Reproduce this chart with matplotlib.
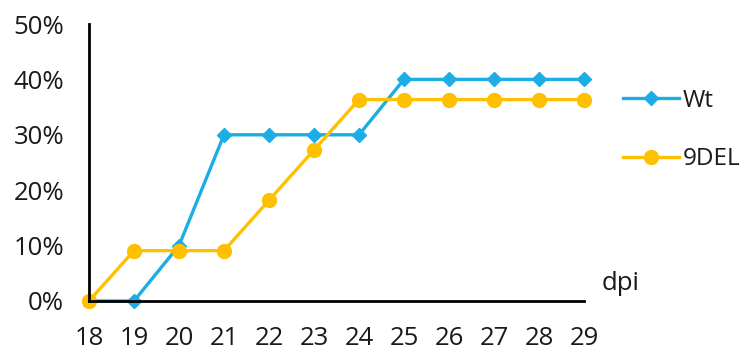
import matplotlib
matplotlib.use('Agg')
import matplotlib.pyplot as plt
from matplotlib.ticker import PercentFormatter

dpi_days = [18, 19, 20, 21, 22, 23, 24, 25, 26, 27, 28, 29]
wt = [0, 0, 10, 30, 30, 30, 30, 40, 40, 40, 40, 40]
del9 = [0, 9.09, 9.09, 9.09, 18.18, 27.27, 36.36, 36.36, 36.36, 36.36, 36.36, 36.36]

plt.rcParams['font.family'] = ['Open Sans', 'DejaVu Sans']

fig = plt.figure(figsize=(7.5, 3.54), dpi=100)
ax = fig.add_axes([89 / 750, 1 - 301 / 354, (584 - 89) / 750, (301 - 24) / 354])

ax.plot(dpi_days, wt, color='#1CADE4', lw=2.4, marker='D', ms=7.5, label='Wt', clip_on=False)
ax.plot(dpi_days, del9, color='#FFC000', lw=2.4, marker='o', ms=10, label='9DEL', clip_on=False)

ax.set_xlim(18, 29)
ax.set_ylim(0, 50)
ax.set_xticks(dpi_days)
ax.set_yticks(range(0, 51, 10))
ax.yaxis.set_major_formatter(PercentFormatter(decimals=0))
ax.tick_params(length=0, labelsize=18.5, colors='#1a1a1a')
ax.tick_params(axis='y', pad=18)
ax.tick_params(axis='x', pad=18)

for s in ['top', 'right']:
    ax.spines[s].set_visible(False)
for s in ['left', 'bottom']:
    ax.spines[s].set_linewidth(2)
    ax.spines[s].set_color('black')

ax.text(602 / 750, 1 - 284 / 354, 'dpi', transform=fig.transFigure, fontsize=18.5,
        ha='left', va='center', color='#1a1a1a')

fig.legend(loc='center left', bbox_to_anchor=(601 / 750, 1 - 130 / 354), frameon=False,
           fontsize=17.5, handlelength=2.3, labelspacing=1.4, handletextpad=0.15,
           labelcolor='#1a1a1a')

fig.savefig('out.png', dpi=100)
